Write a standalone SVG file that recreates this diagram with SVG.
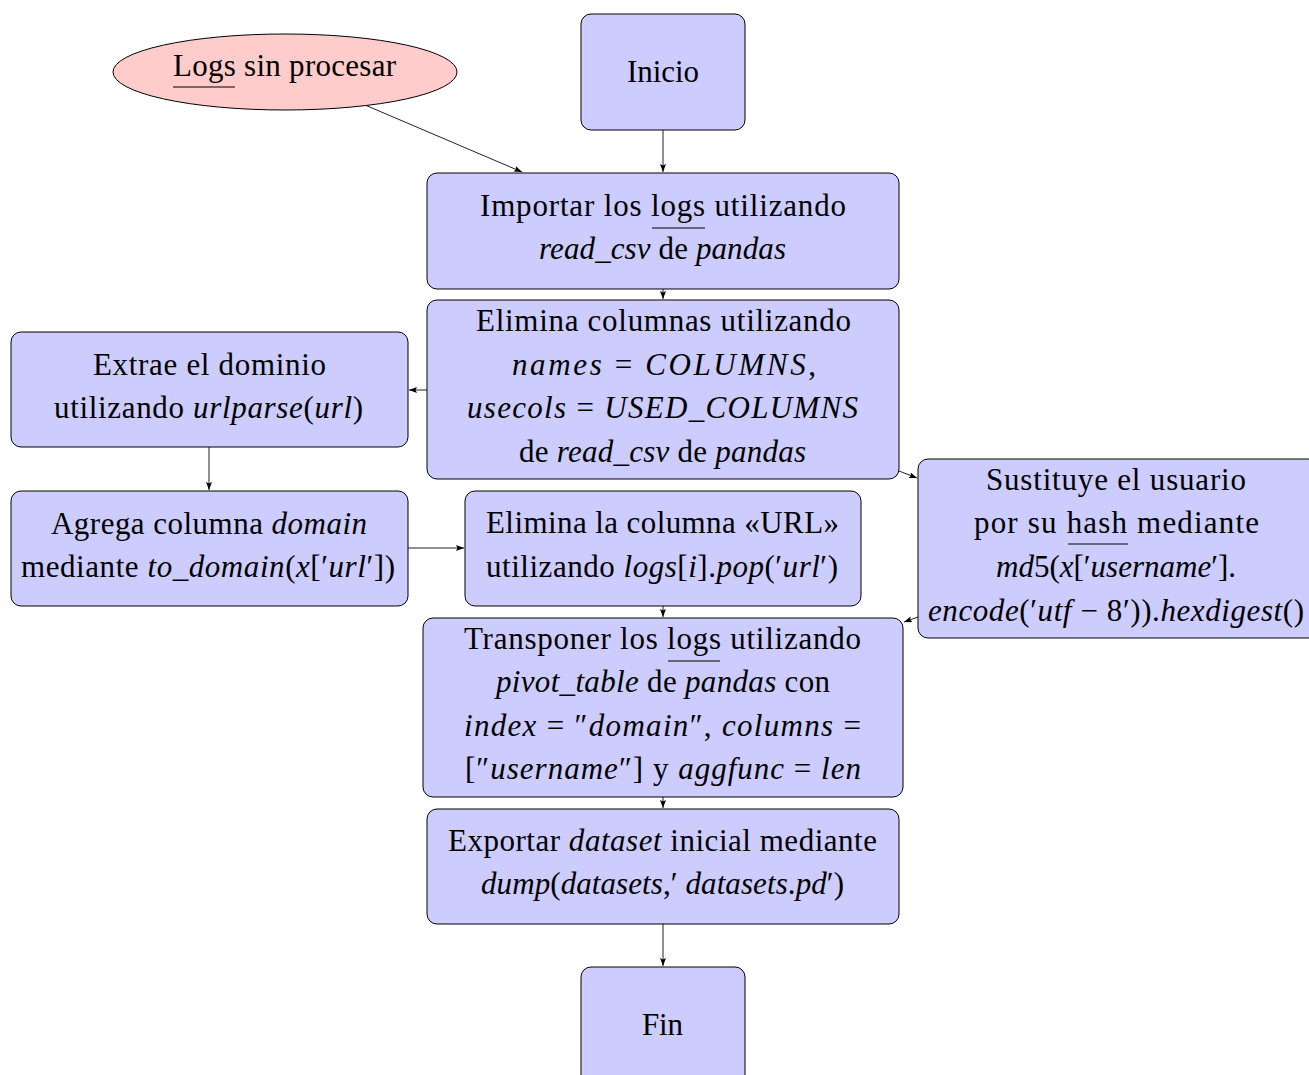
<svg xmlns="http://www.w3.org/2000/svg" width="1309" height="1075" viewBox="0 0 1309 1075">
  <style>
    .box { fill: #ccccff; stroke: #000; stroke-width: 1; }
    .start { fill: #ffcccc; stroke: #000; stroke-width: 1; }
    text { font-family: "Liberation Serif", "DejaVu Serif", serif; font-size: 31px; fill: #000; text-anchor: middle; }
    .i { font-style: italic; }
    .ul { stroke: #000; stroke-width: 1.2; }
    .edge { stroke: #222; stroke-width: 1; fill: none; marker-end: url(#arrow); }
  </style>
  <defs>
    <marker id="arrow" viewBox="0 0 8 6" refX="8" refY="3" markerWidth="8" markerHeight="6" markerUnits="userSpaceOnUse" orient="auto">
      <path d="M0,0 L8,3 L0,6 L1.5,3 Z" fill="#000"/>
    </marker>
  </defs>
  <rect width="1309" height="1075" fill="#fff"/>

  <g id="connectors">
    <line class="edge" x1="365" y1="105" x2="522" y2="172"/>
    <line class="edge" x1="663" y1="130" x2="663" y2="172"/>
    <line class="edge" x1="663" y1="289" x2="663" y2="299"/>
    <line class="edge" x1="427" y1="390" x2="409" y2="390"/>
    <line class="edge" x1="209" y1="447" x2="209" y2="490"/>
    <line class="edge" x1="408" y1="548" x2="464" y2="548"/>
    <line class="edge" x1="899" y1="471" x2="917" y2="478"/>
    <line class="edge" x1="918" y1="617" x2="904" y2="622"/>
    <line class="edge" x1="663" y1="606" x2="663" y2="617"/>
    <line class="edge" x1="663" y1="797" x2="663" y2="808"/>
    <line class="edge" x1="663" y1="924" x2="663" y2="966"/>
  </g>

  <g id="logs-raw">
    <ellipse class="start" cx="285" cy="72" rx="172" ry="38"/>
    <text x="284.5" y="76" textLength="223" lengthAdjust="spacing">Logs sin procesar</text>
    <line class="ul" x1="173" y1="87" x2="235" y2="87"/>
  </g>

  <g id="inicio">
    <rect class="box" x="581" y="14" width="164" height="116" rx="10"/>
    <text x="663" y="82" textLength="72" lengthAdjust="spacing">Inicio</text>
  </g>

  <g id="importar">
    <rect class="box" x="427" y="173" width="472" height="116" rx="10"/>
    <text x="663" y="216" textLength="366" lengthAdjust="spacing">Importar los logs utilizando</text>
    <line class="ul" x1="652" y1="228" x2="705" y2="228"/>
    <text x="662.5" y="259" textLength="247" lengthAdjust="spacing"><tspan class="i">read_csv</tspan> de <tspan class="i">pandas</tspan></text>
  </g>

  <g id="elimina-columnas">
    <rect class="box" x="427" y="300" width="472" height="179" rx="10"/>
    <text x="663.5" y="331" textLength="375" lengthAdjust="spacing">Elimina columnas utilizando</text>
    <text x="664" y="375" textLength="304" lengthAdjust="spacing"><tspan class="i">names</tspan>  =  <tspan class="i">COLUMNS</tspan>,</text>
    <text x="662.5" y="418" textLength="391" lengthAdjust="spacing"><tspan class="i">usecols</tspan> = <tspan class="i">USED_COLUMNS</tspan></text>
    <text x="662.5" y="462" textLength="287" lengthAdjust="spacing">de <tspan class="i">read_csv</tspan> de <tspan class="i">pandas</tspan></text>
  </g>

  <g id="extrae-dominio">
    <rect class="box" x="11" y="332" width="397" height="115" rx="10"/>
    <text x="209.5" y="375" textLength="233" lengthAdjust="spacing">Extrae el dominio</text>
    <text x="208.5" y="418" textLength="309" lengthAdjust="spacing">utilizando <tspan class="i">urlparse</tspan>(<tspan class="i">url</tspan>)</text>
  </g>

  <g id="agrega-columna">
    <rect class="box" x="11" y="491" width="397" height="115" rx="10"/>
    <text x="209" y="534" textLength="316" lengthAdjust="spacing">Agrega columna <tspan class="i">domain</tspan></text>
    <text x="208" y="577" textLength="374" lengthAdjust="spacing">mediante <tspan class="i">to_domain</tspan>(<tspan class="i">x</tspan>[′<tspan class="i">url</tspan>′])</text>
  </g>

  <g id="elimina-url">
    <rect class="box" x="465" y="491" width="396" height="115" rx="10"/>
    <text x="662.5" y="533" textLength="353" lengthAdjust="spacing">Elimina la columna «URL»</text>
    <text x="662" y="577" textLength="352" lengthAdjust="spacing">utilizando <tspan class="i">logs</tspan>[<tspan class="i">i</tspan>].<tspan class="i">pop</tspan>(′<tspan class="i">url</tspan>′)</text>
  </g>

  <g id="sustituye-usuario">
    <rect class="box" x="918" y="459" width="400" height="179" rx="10"/>
    <text x="1116" y="490" textLength="260" lengthAdjust="spacing">Sustituye el usuario</text>
    <text x="1116.5" y="533" textLength="285" lengthAdjust="spacing">por su hash mediante</text>
    <line class="ul" x1="1068" y1="544" x2="1128" y2="544"/>
    <text x="1116" y="577" textLength="240" lengthAdjust="spacing"><tspan class="i">md</tspan>5(<tspan class="i">x</tspan>[′<tspan class="i">username</tspan>′].</text>
    <text x="1116" y="621" textLength="376" lengthAdjust="spacing"><tspan class="i">encode</tspan>(′<tspan class="i">utf</tspan> − 8′)).<tspan class="i">hexdigest</tspan>()</text>
  </g>

  <g id="transponer">
    <rect class="box" x="423" y="618" width="480" height="179" rx="10"/>
    <text x="662.5" y="649" textLength="397" lengthAdjust="spacing">Transponer los logs utilizando</text>
    <line class="ul" x1="668" y1="661" x2="720" y2="661"/>
    <text x="663" y="692" textLength="334" lengthAdjust="spacing"><tspan class="i">pivot_table</tspan> de <tspan class="i">pandas</tspan> con</text>
    <text x="662.5" y="736" textLength="397" lengthAdjust="spacing"><tspan class="i">index</tspan> = ″<tspan class="i">domain</tspan>″, <tspan class="i">columns</tspan> =</text>
    <text x="663" y="779" textLength="396" lengthAdjust="spacing">[″<tspan class="i">username</tspan>″] y <tspan class="i">aggfunc</tspan> = <tspan class="i">len</tspan></text>
  </g>

  <g id="exportar">
    <rect class="box" x="427" y="809" width="472" height="115" rx="10"/>
    <text x="662.5" y="851" textLength="429" lengthAdjust="spacing">Exportar <tspan class="i">dataset</tspan> inicial mediante</text>
    <text x="662.5" y="894" textLength="363" lengthAdjust="spacing"><tspan class="i">dump</tspan>(<tspan class="i">datasets</tspan>,′ <tspan class="i">datasets</tspan>.<tspan class="i">pd</tspan>′)</text>
  </g>

  <g id="fin">
    <rect class="box" x="581" y="967" width="164" height="120" rx="10"/>
    <text x="662.5" y="1035" textLength="41" lengthAdjust="spacing">Fin</text>
  </g>
</svg>
